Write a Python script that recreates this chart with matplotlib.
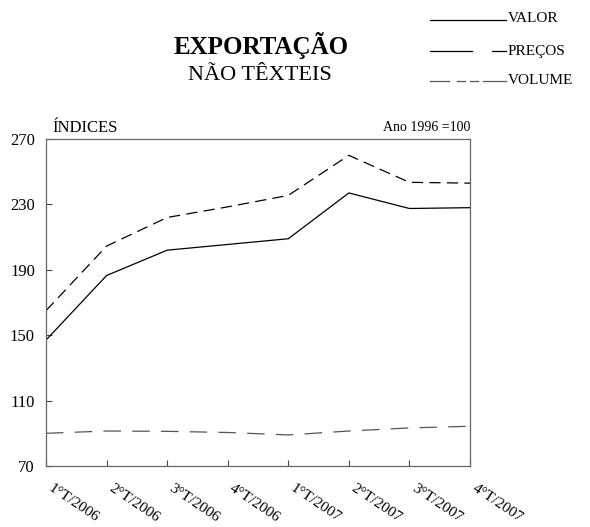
import matplotlib.pyplot as plt
import matplotlib.transforms as mtransforms
from matplotlib.lines import Line2D

plt.rcParams['font.family'] = ['Liberation Serif', 'DejaVu Serif']

# quarters and index values (1996 = 100)
trimestres = ['1°T/2006', '2°T/2006', '3°T/2006', '4°T/2006',
              '1°T/2007', '2°T/2007', '3°T/2007', '4°T/2007']
valor = [165, 204.5, 222, 228.5, 235.5, 260, 243.5, 243]
precos = [147, 186.5, 202, 205.5, 209, 237, 227.5, 228]
volume = [90, 91.4, 91.2, 90.5, 89, 91.4, 93.3, 94.3]
yticks = [70, 110, 150, 190, 230, 270]

fig = plt.figure(figsize=(5.9, 5.27), dpi=100)
ax = fig.add_axes([46/590, 61/527, 424/590, 327/527])
x = range(len(trimestres))

ax.plot(x, valor, color='black', lw=0.9, dashes=(9, 5))
ax.plot(x, precos, color='black', lw=0.9)
ax.plot(x, volume, color='#555555', lw=0.9, dashes=(14, 9))

ax.set_xlim(0, len(trimestres) - 1)
ax.set_ylim(70, 270)
ax.set_yticks(yticks)
ax.set_xticks(list(x))
ax.set_xticklabels(trimestres, rotation=-34, ha='left', va='top',
                   rotation_mode='anchor', fontsize=11)
ax.tick_params(axis='both', direction='in', length=4, colors='#444444',
               labelcolor='black')
ax.tick_params(axis='y', labelsize=12, pad=8)
ax.tick_params(axis='x', pad=11)
# push the slanted labels a bit to the right of their ticks
shift = mtransforms.ScaledTranslation(7/100, 0, fig.dpi_scale_trans)
for lab in ax.get_xticklabels():
    lab.set_transform(lab.get_transform() + shift)
for s in ax.spines.values():
    s.set_color('#666666')
    s.set_linewidth(0.9)

ax.text(0.015, 1.01, 'ÍNDICES', transform=ax.transAxes, fontsize=12,
        ha='left', va='bottom')
ax.text(1.0, 1.015, 'Ano 1996 =100', transform=ax.transAxes, fontsize=10,
        ha='right', va='bottom')

fig.text(261/590, 1 - 45/527, 'EXPORTAÇÃO', fontsize=18, weight='bold',
         ha='center', va='center')
fig.text(260/590, 1 - 75/527, 'NÃO TÊXTEIS', fontsize=16,
         ha='center', va='center')

# legend drawn by hand at the top right
def fx(px):
    return px / 590

def fy(py):
    return 1 - py / 527

def seg(x0, x1, py, color='black'):
    fig.add_artist(Line2D([fx(x0), fx(x1)], [fy(py), fy(py)], color=color, lw=0.9))

seg(430, 506, 20)
seg(430, 472, 51)
seg(492, 506, 51)
for x0, x1 in [(430, 449), (457, 465), (470, 478), (483, 506)]:
    seg(x0, x1, 81, '#555555')
for py, lab in [(19, 'VALOR'), (51, 'PREÇOS'), (81, 'VOLUME')]:
    fig.text(fx(508), fy(py), lab, fontsize=11, ha='left', va='center')

fig.savefig('out.png', dpi=100)
